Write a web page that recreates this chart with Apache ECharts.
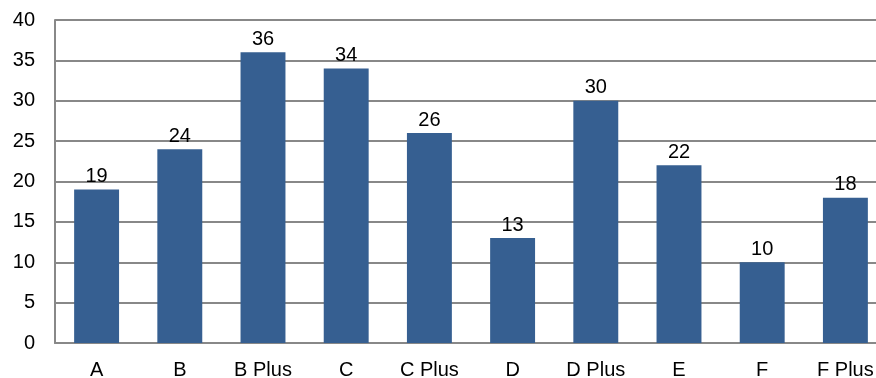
<!DOCTYPE html>
<html>
<head>
<meta charset="utf-8">
<script src="https://cdn.jsdelivr.net/npm/echarts@6/dist/echarts.min.js"></script>
<style>
  html, body { margin: 0; padding: 0; background: #fff; }
  #chart { width: 876px; height: 378px; }
</style>
</head>
<body>
<div id="chart"></div>
<script>
// Grades and their counts
const categories = ['A', 'B', 'B Plus', 'C', 'C Plus', 'D', 'D Plus', 'E', 'F', 'F Plus'];
const counts = [19, 24, 36, 34, 26, 13, 30, 22, 10, 18];
const yTicks = { min: 0, max: 40, interval: 5 };

const font = 'Liberation Sans, Arial, sans-serif';
const chart = echarts.init(document.getElementById('chart'), null, { renderer: 'canvas' });

chart.setOption({
  animation: false,
  // plot area runs slightly past the right edge of the canvas
  grid: { left: 55, width: 832, top: 20, bottom: 35, containLabel: false, outerBoundsMode: 'none' },
  xAxis: {
    type: 'category',
    data: categories,
    axisLine: { lineStyle: { color: '#888', width: 2 } },
    axisTick: { show: false },
    axisLabel: { color: '#000', fontFamily: font, fontSize: 20, margin: 17 }
  },
  yAxis: {
    type: 'value',
    min: yTicks.min,
    max: yTicks.max,
    interval: yTicks.interval,
    axisLine: { show: true, lineStyle: { color: '#888', width: 2 } },
    axisTick: { show: false },
    splitLine: { lineStyle: { color: '#888', width: 2 } },
    axisLabel: { color: '#000', fontFamily: font, fontSize: 20, margin: 20 }
  },
  series: [{
    type: 'bar',
    data: counts,
    barWidth: '54%',
    itemStyle: { color: '#365f91' },
    label: {
      show: true,
      position: 'top',
      distance: 3,
      color: '#000',
      fontFamily: font,
      fontSize: 20
    }
  }]
});
</script>
</body>
</html>
